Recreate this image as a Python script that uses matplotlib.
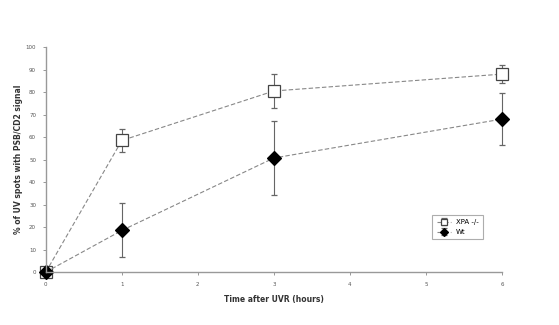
import matplotlib
matplotlib.use("Agg")
import matplotlib.pyplot as plt

hours = [0, 1, 3, 6]
xpa = [0, 58.5, 80.5, 88]
xpa_err = [0, 5, 7.7, 4]
wt = [0, 18.5, 50.7, 68]
wt_err = [0, 12, 16.5, 11.7]

fig = plt.figure(figsize=(5.59, 3.25), dpi=100)
ax = fig.add_axes([0.082, 0.163, 0.816, 0.692])

for y, e, lab, mk, fc, ms in [(xpa, xpa_err, "XPA -/-", "s", "white", 9),
                              (wt, wt_err, "Wt", "D", "black", 7.5)]:
    lines = ax.errorbar(hours, y, yerr=e, color="#888888", ls=(0, (4, 2)), lw=0.8,
                        marker=mk, ms=ms, mfc=fc, mec="#444444" if fc == "white" else "black",
                        mew=0.9, ecolor="#666666", elinewidth=0.8, capsize=2, label=lab)
    for art in lines.get_children():
        art.set_clip_on(False)

ax.set_xlim(0, 6)
ax.set_ylim(0, 100)
ax.set_xticks(range(0, 7))
ax.set_yticks(range(0, 101, 10))
ax.tick_params(labelsize=4, length=2, width=0.6, pad=5, colors="#888888", labelcolor="#555555")
for s in ["top", "right"]:
    ax.spines[s].set_visible(False)
for s in ["left", "bottom"]:
    ax.spines[s].set_color("#999999")
    ax.spines[s].set_linewidth(1)

ax.set_xlabel("Time after UVR (hours)", fontsize=5.5, fontweight="bold", color="#333333", labelpad=6)
ax.set_ylabel("% of UV spots with PSB/CD2 signal", fontsize=5.5, fontweight="bold", color="#333333", labelpad=2)

leg = ax.legend(loc="lower left", bbox_to_anchor=(0.84, 0.13), fontsize=5, frameon=True,
                fancybox=False, edgecolor="#999999", handlelength=2, markerscale=0.5,
                borderpad=0.6, labelspacing=0.6)
leg.get_frame().set_linewidth(0.8)

fig.savefig("out.png", dpi=100)
